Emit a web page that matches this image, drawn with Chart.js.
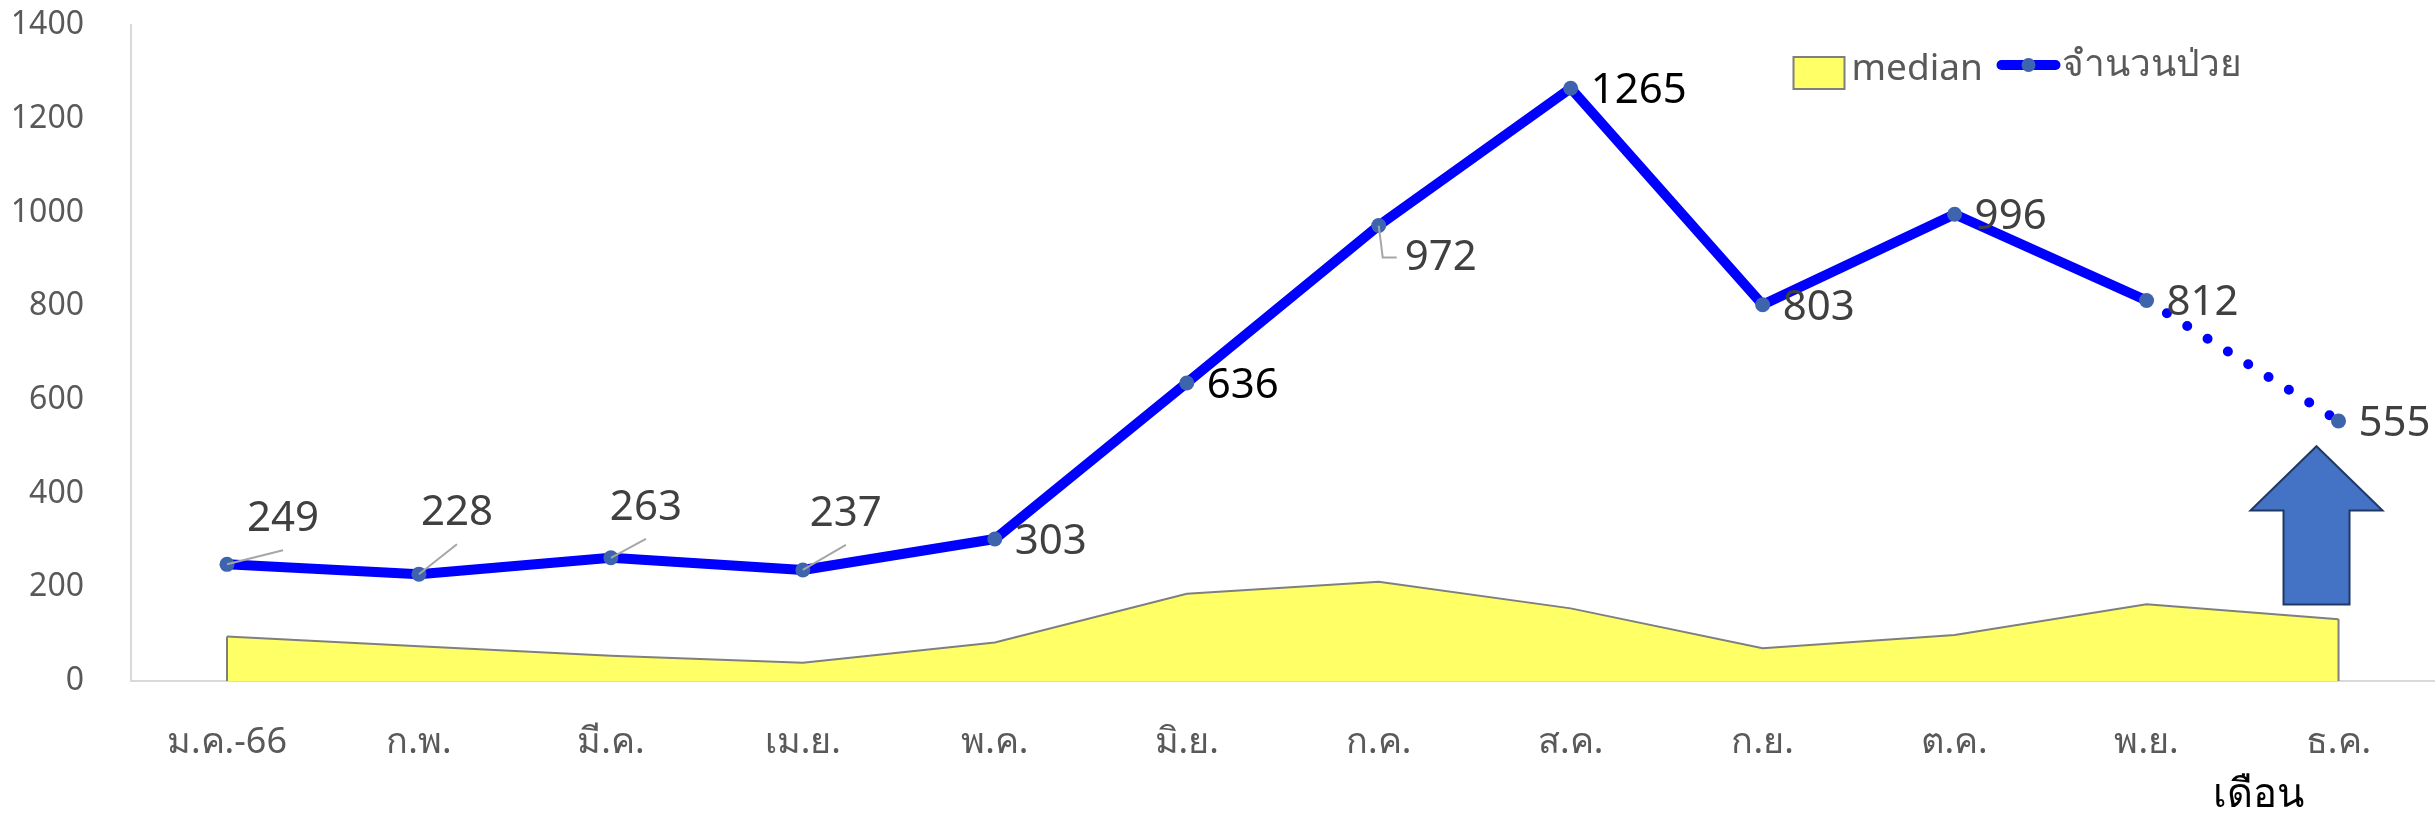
<!DOCTYPE html>
<html>
<head>
<meta charset="utf-8">
<script src="https://cdn.jsdelivr.net/npm/chart.js@4.4.0/dist/chart.umd.min.js"></script>
<style>
  html, body { margin: 0; background: #fff; overflow: hidden; }
  #wrap { width: 2442px; height: 819px; position: relative; }
</style>
</head>
<body>
<div id="wrap"><canvas id="chart"></canvas></div>
<script>
/* ===== data ===== */
const months = ['ม.ค.-66', 'ก.พ.', 'มี.ค.', 'เม.ย.', 'พ.ค.', 'มิ.ย.', 'ก.ค.', 'ส.ค.', 'ก.ย.', 'ต.ค.', 'พ.ย.', 'ธ.ค.'];
const patients = [249, 228, 263, 237, 303, 636, 972, 1265, 803, 996, 812, 555];
const median = [95, 74, 54, 39, 82, 186, 212, 155, 70, 98, 164, 132];
const yMin = 0, yMax = 1400, yStep = 200;
const seriesNames = ['median', 'จำนวนป่วย'];
const axisTitle = 'เดือน';

// where each value label sits: 'up' (with leader), 'right', 'elbow'
const labelPlace = ['up', 'up', 'up', 'up', 'right', 'right', 'elbow', 'right', 'right', 'right', 'right', 'right'];
const upOffsets = [[56, -45], [38, -61], [35, -50], [43, -56]];
const darkLabels = [5, 7];

const FONT = "'Noto Sans', 'DejaVu Sans', sans-serif";
const C = {
    line: '#0000ff',
    point: '#3e64ae',
    area: '#ffff66',
    areaEdge: '#7f7f7f',
    text: '#404040',
    tick: '#595959',
    axis: '#d9d9d9',
    leader: '#a6a6a6',
    arrow: '#4472c4',
    arrowEdge: '#1f3864'
};

/* ---- custom drawing: labels, legend, arrow, axis title ---- */
const extras = {
    id: 'extras',
    afterDatasetsDraw(chart) {
        const ctx = chart.ctx;
        const x = chart.scales.x, y = chart.scales.y;
        const area = chart.chartArea;

        // median area end edges
        const mMeta = chart.getDatasetMeta(0);
        ctx.save();
        ctx.strokeStyle = C.areaEdge;
        ctx.lineWidth = 2;
        [0, median.length - 1].forEach(i => {
            const p = mMeta.data[i];
            ctx.beginPath();
            ctx.moveTo(p.x, p.y);
            ctx.lineTo(p.x, y.getPixelForValue(0));
            ctx.stroke();
        });
        ctx.restore();

        // value labels
        const meta = chart.getDatasetMeta(1);
        ctx.save();
        ctx.font = '42px ' + FONT;
        ctx.textBaseline = 'middle';
        meta.data.forEach((p, i) => {
            const txt = String(patients[i]);
            ctx.fillStyle = darkLabels.includes(i) ? '#000' : C.text;
            ctx.strokeStyle = C.leader;
            ctx.lineWidth = 2;
            if (labelPlace[i] === 'up') {
                const [dx, dy] = upOffsets[i];
                ctx.beginPath();
                ctx.moveTo(p.x, p.y);
                ctx.lineTo(p.x + dx, p.y + dy + 31);
                ctx.stroke();
                ctx.textAlign = 'center';
                ctx.fillText(txt, p.x + dx, p.y + dy);
            } else if (labelPlace[i] === 'elbow') {
                ctx.beginPath();
                ctx.moveTo(p.x, p.y);
                ctx.lineTo(p.x + 4, p.y + 32);
                ctx.lineTo(p.x + 18, p.y + 32);
                ctx.stroke();
                ctx.textAlign = 'left';
                ctx.fillText(txt, p.x + 26, p.y + 32);
            } else {
                ctx.textAlign = 'left';
                ctx.fillText(txt, p.x + 20, p.y + 3);
            }
        });
        ctx.restore();

        // arrow next to the last month
        const ax = x.getPixelForValue(months.length - 1) - 22;
        const tip = y.getPixelForValue(501), neck = y.getPixelForValue(364), foot = y.getPixelForValue(163);
        ctx.save();
        ctx.beginPath();
        ctx.moveTo(ax, tip);
        ctx.lineTo(ax + 66, neck);
        ctx.lineTo(ax + 33, neck);
        ctx.lineTo(ax + 33, foot);
        ctx.lineTo(ax - 33, foot);
        ctx.lineTo(ax - 33, neck);
        ctx.lineTo(ax - 66, neck);
        ctx.closePath();
        ctx.fillStyle = C.arrow;
        ctx.fill();
        ctx.strokeStyle = C.arrowEdge;
        ctx.lineWidth = 2;
        ctx.stroke();
        ctx.restore();

        // legend inside plot, top right
        const lx = area.right - 641, ly = 73;
        ctx.save();
        ctx.fillStyle = C.area;
        ctx.strokeStyle = C.areaEdge;
        ctx.lineWidth = 2;
        ctx.fillRect(lx, ly - 16, 51, 32);
        ctx.strokeRect(lx, ly - 16, 51, 32);
        ctx.font = '37px ' + FONT;
        ctx.fillStyle = C.tick;
        ctx.textBaseline = 'middle';
        ctx.textAlign = 'left';
        ctx.fillText(seriesNames[0], lx + 58, ly - 4);
        ctx.strokeStyle = C.line;
        ctx.lineWidth = 10;
        ctx.lineCap = 'round';
        ctx.beginPath();
        ctx.moveTo(lx + 208, ly - 8);
        ctx.lineTo(lx + 262, ly - 8);
        ctx.stroke();
        ctx.fillStyle = C.point;
        ctx.beginPath();
        ctx.arc(lx + 235, ly - 8, 7, 0, Math.PI * 2);
        ctx.fill();
        ctx.fillStyle = C.tick;
        ctx.fillText(seriesNames[1], lx + 268, ly - 8);
        ctx.restore();

        // x axis title
        ctx.save();
        ctx.font = '500 40px ' + FONT;
        ctx.fillStyle = '#000';
        ctx.textAlign = 'center';
        ctx.textBaseline = 'middle';
        ctx.fillText(axisTitle, x.getPixelForValue(months.length - 1) - 80, 796);
        ctx.restore();
    }
};

new Chart(document.getElementById('chart'), {
    type: 'line',
    data: {
        labels: months,
        datasets: [
            {
                label: seriesNames[0], data: median, order: 2,
                fill: 'origin', backgroundColor: C.area,
                borderColor: C.areaEdge, borderWidth: 2,
                pointRadius: 0, tension: 0
            },
            {
                label: seriesNames[1], data: patients, order: 1,
                borderColor: C.line, borderWidth: 10,
                borderCapStyle: 'round', borderJoinStyle: 'round',
                pointRadius: 7.5, pointBackgroundColor: C.point, pointBorderWidth: 0,
                tension: 0,
                segment: {
                    borderDash: c => c.p0DataIndex === patients.length - 2 ? [0, 24] : undefined
                }
            }
        ]
    },
    plugins: [extras],
    options: {
        responsive: true, maintainAspectRatio: false,
        animation: false,
        layout: { padding: { top: 25, left: 14, right: 5, bottom: 0 } },
        plugins: { legend: { display: false }, tooltip: { enabled: false } },
        scales: {
            y: {
                min: yMin, max: yMax,
                ticks: { stepSize: yStep, color: C.tick, padding: 47, font: { size: 32, family: FONT }, callback: v => String(v) },
                grid: { display: false, drawTicks: false },
                border: { display: true, color: C.axis, width: 2 },
                afterFit: s => { s.width = 117; s.paddingTop = 0; s.paddingBottom = 0; }
            },
            x: {
                offset: true,
                ticks: { color: C.tick, padding: 40, font: { size: 36, family: FONT }, maxRotation: 0 },
                grid: { display: false, drawTicks: false },
                border: { display: true, color: C.axis, width: 2 },
                afterFit: s => { s.height = 138; s.paddingLeft = 0; s.paddingRight = 0; }
            }
        }
    }
});
</script>
</body>
</html>
